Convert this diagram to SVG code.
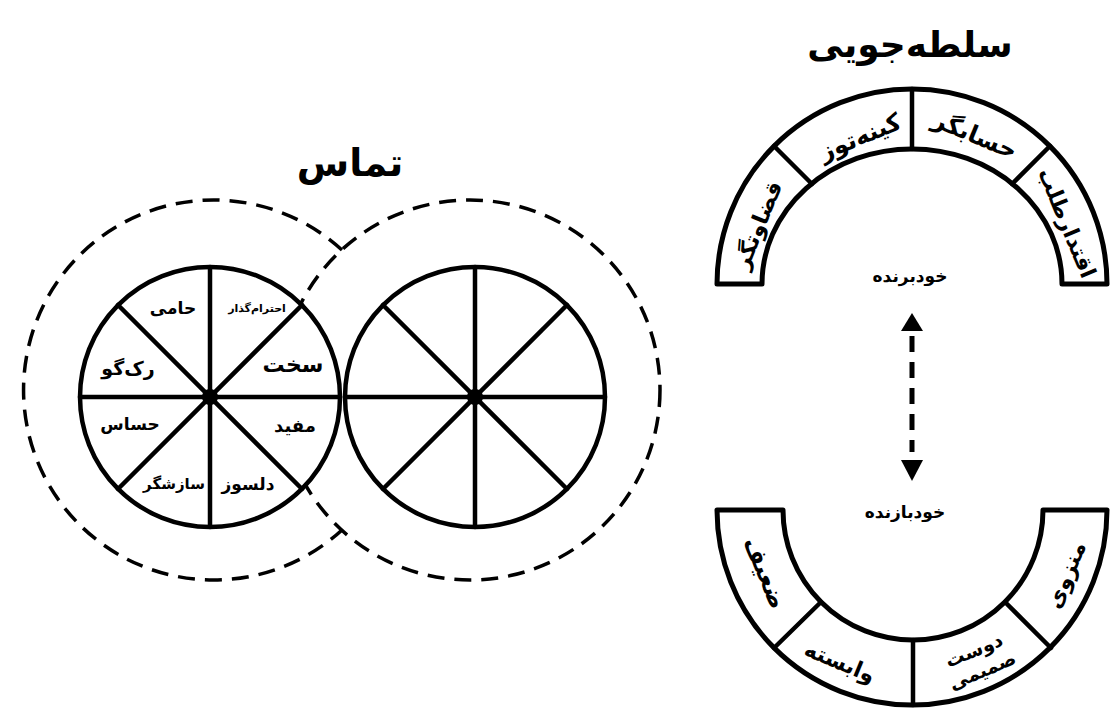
<svg xmlns="http://www.w3.org/2000/svg" width="1113" height="710" viewBox="0 0 1113 710">
<defs>
<style>
.t{font-family:"DejaVu Sans","Noto Sans",sans-serif;font-weight:bold;fill:#000;text-anchor:middle;dominant-baseline:central}
.ln{stroke:#000;stroke-width:4.5;fill:none;stroke-linecap:round}
.whl{stroke:#000;stroke-width:4.5;fill:#fff}
.dash{stroke:#000;stroke-width:3.5;fill:none;stroke-dasharray:17 10}
.arch{stroke:#000;stroke-width:5;fill:#fff;stroke-linejoin:round}
</style>
</defs>
<rect width="1113" height="710" fill="#fff"/>
<g id="connectors">
<path class="dash" d="M 342 250 A 190 190 0 1 0 342 530"/>
<circle class="dash" cx="470" cy="390" r="190"/>
<line x1="912" y1="336" x2="912" y2="452" stroke="#000" stroke-width="5" stroke-dasharray="16 10"/>
<polygon points="912,313 901,331 923,331" fill="#000"/>
<polygon points="912,481 901,460 923,460" fill="#000"/>
</g>
<g id="title-contact"><text class="t" x="350" y="163" font-size="38">تماس</text></g>
<g id="title-dominance"><text class="t" x="910" y="44" font-size="36">سلطه‌جویی</text></g>
<g id="wheel-left">
<circle class="whl" cx="210" cy="397" r="130"/>
<line class="ln" x1="210" y1="267" x2="210" y2="527"/>
<line class="ln" x1="80" y1="397" x2="340" y2="397"/>
<line class="ln" x1="118" y1="305" x2="302" y2="489"/>
<line class="ln" x1="118" y1="489" x2="302" y2="305"/>
<circle cx="210" cy="397" r="8" fill="#000"/>
<text class="t" x="173" y="308" font-size="17">حامی</text>
<text class="t" x="257" y="308" font-size="11">احترام‌گذار</text>
<text class="t" x="293" y="364" font-size="22">سخت</text>
<text class="t" x="295" y="425" font-size="18">مفید</text>
<text class="t" x="248" y="484" font-size="17">دلسوز</text>
<text class="t" x="174" y="484" font-size="15">سازشگر</text>
<text class="t" x="130" y="424" font-size="17">حساس</text>
<text class="t" x="128" y="368" font-size="19">رک‌گو</text>
</g>
<g id="wheel-right">
<circle class="whl" cx="475" cy="397" r="130"/>
<line class="ln" x1="475" y1="267" x2="475" y2="527"/>
<line class="ln" x1="345" y1="397" x2="605" y2="397"/>
<line class="ln" x1="383" y1="305" x2="567" y2="489"/>
<line class="ln" x1="383" y1="489" x2="567" y2="305"/>
<circle cx="475" cy="397" r="8" fill="#000"/>
</g>
<g id="arch-top">
<path class="arch" d="M 717 284 A 195 195 0 0 1 1107 284 L 1062 284 A 150 135 0 0 0 762 284 Z"/>
<line class="ln" x1="912" y1="89" x2="912" y2="149"/>
<line class="ln" x1="774" y1="146" x2="812" y2="184"/>
<line class="ln" x1="1050" y1="146" x2="1012" y2="184"/>
<text class="t" x="758" y="225" font-size="22" transform="rotate(-67.5 758 225)">قضاوتگر</text>
<text class="t" x="860" y="137" font-size="24" transform="rotate(-22.5 860 137)">کینه‌توز</text>
<text class="t" x="975" y="135" font-size="24" transform="rotate(22.5 975 135)">حسابگر</text>
<text class="t" x="1067" y="223" font-size="22" transform="rotate(67.5 1067 223)">اقتدارطلب</text>
</g>
<g id="label-top"><text class="t" x="910" y="276" font-size="17">خودبرنده</text></g>
<g id="label-bottom"><text class="t" x="905" y="512" font-size="17">خودبازنده</text></g>
<g id="arch-bottom">
<path class="arch" d="M 717 510 A 195 195 0 0 0 1107 510 L 1043 510 A 130 130 0 0 1 783 510 Z"/>
<line class="ln" x1="913" y1="640" x2="913" y2="705"/>
<line class="ln" x1="821" y1="602" x2="774" y2="648"/>
<line class="ln" x1="1005" y1="602" x2="1051" y2="648"/>
<text class="t" x="765" y="573" font-size="24" transform="rotate(67.5 765 573)">ضعیف</text>
<text class="t" x="840" y="662" font-size="22" transform="rotate(22.5 840 662)">وابسته</text>
<text class="t" x="978" y="660" font-size="19" transform="rotate(-22.5 978 660)"><tspan x="978" dy="-11">دوست</tspan><tspan x="978" dy="22">صمیمی</tspan></text>
<text class="t" x="1066" y="575" font-size="22" transform="rotate(-67.5 1066 575)">منزوی</text>
</g>
</svg>
